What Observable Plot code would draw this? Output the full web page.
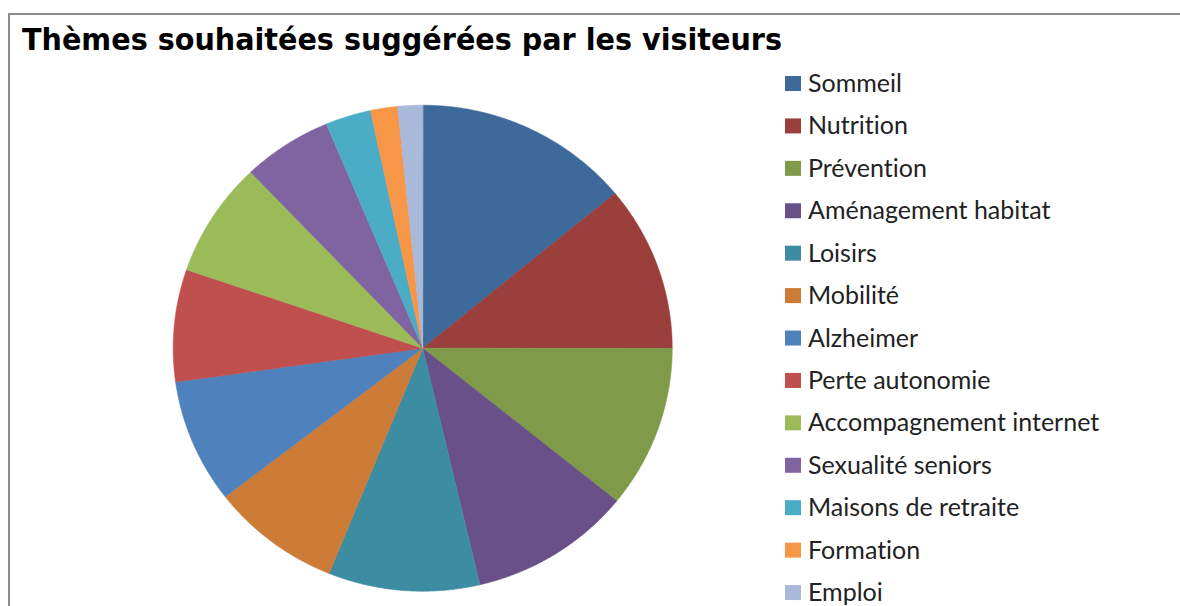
<!DOCTYPE html>
<html>
<head>
<meta charset="utf-8">
<script src="https://cdn.jsdelivr.net/npm/d3@7"></script>
<script src="https://cdn.jsdelivr.net/npm/@observablehq/plot@0.6"></script>
<style>
  html, body { margin: 0; padding: 0; background: #fff; overflow: hidden; }
  body { width: 1180px; height: 606px; position: relative; }
  #frame { position: absolute; left: 8px; top: 13px; width: 1300px; height: 800px;
           border: 2px solid #8c8c8c; box-sizing: border-box; }
  #pie { position: absolute; left: 0; top: 0; }
  #title { position: absolute; left: 0; top: 0; }
  #legend { position: absolute; left: 0; top: 0; }
</style>
</head>
<body>
<div id="frame"></div>
<div id="pie"></div>
<svg id="title" width="1180" height="70"></svg>
<svg id="legend" width="1180" height="606"></svg>
<script>
const titleText = "Thèmes souhaitées suggérées par les visiteurs";
const categories = ["Sommeil", "Nutrition", "Prévention", "Aménagement habitat", "Loisirs", "Mobilité",
  "Alzheimer", "Perte autonomie", "Accompagnement internet", "Sexualité seniors",
  "Maisons de retraite", "Formation", "Emploi"];
const values = [14.0, 11.0, 10.8, 10.5, 9.8, 8.4, 8.25, 7.45, 7.65, 5.8, 2.95, 1.75, 1.6];
const colors = ["#3e6a9b", "#9b3f3d", "#7f9b4a", "#6a5089", "#3c8ca2", "#cd7c37",
  "#4f81bd", "#c0504d", "#9bbb59", "#8064a2", "#4bacc6", "#f79646", "#a9b9d9"];

// Pie geometry from the data (angles clockwise from 12 o'clock)
const pie = d3.pie().sort(null).value(d => d)(values);
const slices = pie.map((p, i) => {
  const pts = [{x: 0, y: 0}];
  const n = Math.max(4, Math.ceil((p.endAngle - p.startAngle) / 0.005));
  for (let k = 0; k <= n; k++) {
    const a = p.startAngle + (p.endAngle - p.startAngle) * k / n;
    pts.push({x: Math.sin(a), y: Math.cos(a)});
  }
  return {name: categories[i], color: colors[i], pts};
});

const chart = Plot.plot({
  width: 1180,
  height: 606,
  x: {domain: [-1, 1], range: [172.7, 671.7], axis: null},
  y: {domain: [-1, 1], range: [590.7, 104.7], axis: null},
  style: {background: "transparent"},
  marks: slices.map(s => Plot.line(s.pts, {
    x: "x", y: "y", curve: "linear-closed",
    fill: s.color, stroke: s.color, strokeWidth: 0.6
  }))
});
document.getElementById("pie").appendChild(chart);

// Title
d3.select("#title").append("text")
  .attr("x", 22).attr("y", 50)
  .attr("textLength", 760).attr("lengthAdjust", "spacingAndGlyphs")
  .style("font-family", "'DejaVu Sans', sans-serif")
  .style("font-weight", "bold").style("font-size", "31px").style("fill", "#000")
  .text(titleText);

// Legend
const lg = d3.select("#legend");
categories.forEach((c, i) => {
  const cy = 83.5 + i * 42.42;
  lg.append("rect").attr("x", 785).attr("y", cy - 7.5).attr("width", 16).attr("height", 15)
    .attr("fill", colors[i]);
  lg.append("text").attr("x", 808).attr("y", cy + 8.5)
    .style("font-family", "Lato, 'Open Sans', sans-serif").style("font-size", "25px")
    .style("font-variant-ligatures", "none")
    .style("fill", "#222").text(c);
});
</script>
</body>
</html>
